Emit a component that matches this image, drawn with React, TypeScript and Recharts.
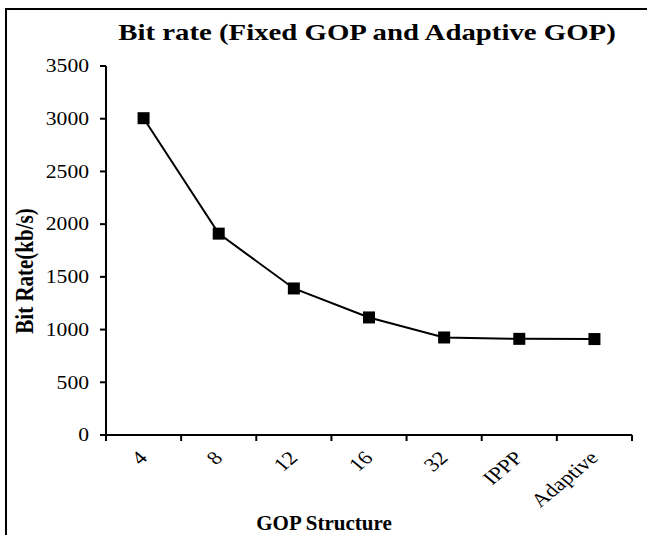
import { LineChart, Line, XAxis, YAxis } from "recharts";

const categories = ["4", "8", "12", "16", "32", "IPPP", "Adaptive"];
const bitRates = [3005, 1910, 1390, 1115, 925, 912, 910];
const yTicks = [0, 500, 1000, 1500, 2000, 2500, 3000, 3500];

// points sit in the middle of each category slot, tick marks on the slot edges
const data = categories.map((gop, i) => ({ pos: i + 0.5, gop, rate: bitRates[i] }));
const xTicks = Array.from({ length: categories.length * 2 + 1 }, (_, i) => i / 2);

const serif = '"Liberation Serif", "Times New Roman", serif';
const stretch = 1.2;

function GopTick(props: any) {
  const { x, y, payload } = props;
  const v = payload.value;
  if (Number.isInteger(v)) {
    return <line x1={x} y1={y} x2={x} y2={y + 6} stroke="#000" strokeWidth={2} />;
  }
  const lx = x + 5;
  const ly = y + 24;
  return (
    <text
      transform={`translate(${lx},${ly}) scale(${stretch},1) rotate(-45)`}
      textAnchor="end"
      fontFamily={serif}
      fontSize={19}
      fill="#000"
    >
      {categories[Math.floor(v)]}
    </text>
  );
}

function RateTick(props: any) {
  const { x, y, payload } = props;
  return (
    <text
      x={0}
      y={0}
      transform={`translate(${x},${y}) scale(${stretch},1)`}
      textAnchor="end"
      dominantBaseline="central"
      fontFamily={serif}
      fontSize={18}
      fill="#000"
    >
      {payload.value}
    </text>
  );
}

function SquareDot(props: any) {
  const { cx, cy } = props;
  return <rect x={cx - 6} y={cy - 6} width={12} height={12} fill="#000" />;
}

export default function App() {
  return (
    <div style={{ position: "absolute", left: 0, top: 0, width: 647, height: 535, background: "#fff" }}>
      <div
        style={{
          position: "absolute",
          left: 5,
          top: 8,
          width: 642,
          height: 527,
          borderLeft: "2px solid #000",
          borderTop: "2px solid #000",
          boxSizing: "border-box",
        }}
      />
      <LineChart
        width={647}
        height={535}
        data={data}
        margin={{ top: 66, right: 15, bottom: 0, left: 0 }}
      >
        <XAxis
          dataKey="pos"
          type="number"
          domain={[0, categories.length]}
          ticks={xTicks}
          interval={0}
          tickSize={0}
          tickMargin={0}
          tickLine={false}
          tick={<GopTick />}
          axisLine={{ stroke: "#000", strokeWidth: 2 }}
          height={100}
        />
        <YAxis
          domain={[0, 3500]}
          ticks={yTicks}
          interval={0}
          width={106}
          tickSize={6}
          tickMargin={11}
          tickLine={{ stroke: "#000", strokeWidth: 2 }}
          axisLine={{ stroke: "#000", strokeWidth: 2 }}
          tick={<RateTick />}
        />
        <Line
          dataKey="rate"
          stroke="#000"
          strokeWidth={2}
          dot={<SquareDot />}
          activeDot={false}
          isAnimationActive={false}
        />
      </LineChart>
      <svg
        width={647}
        height={535}
        style={{ position: "absolute", left: 0, top: 0, pointerEvents: "none" }}
      >
        <text
          transform={`translate(367,40) scale(${stretch},1)`}
          textAnchor="middle"
          fontFamily={serif}
          fontWeight="bold"
          fontSize={24}
          fill="#000"
        >
          Bit rate (Fixed GOP and Adaptive GOP)
        </text>
        <text
          transform={`translate(33,271) scale(${stretch},1) rotate(-90)`}
          textAnchor="middle"
          fontFamily={serif}
          fontWeight="bold"
          fontSize={21}
          fill="#000"
        >
          Bit Rate(kb/s)
        </text>
        <text
          x={324}
          y={530}
          textAnchor="middle"
          fontFamily={serif}
          fontWeight="bold"
          fontSize={21}
          fill="#000"
        >
          GOP Structure
        </text>
      </svg>
    </div>
  );
}
